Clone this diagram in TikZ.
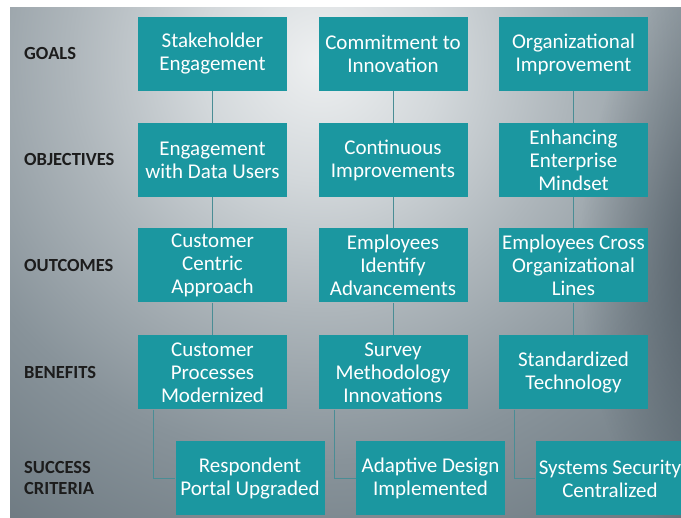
\documentclass[tikz,border=0pt]{standalone}
\usepackage{fontspec}
\setmainfont{Carlito}
\usetikzlibrary{fadings}

\definecolor{boxteal}{HTML}{1B97A0}
\definecolor{linkteal}{HTML}{4A8D95}
\definecolor{labelink}{HTML}{1C1C1C}
\definecolor{bg0}{HTML}{EEF0F1}
\definecolor{bg1}{HTML}{D3D8DB}
\definecolor{bg2}{HTML}{AEB6BB}
\definecolor{bg3}{HTML}{88939A}
\definecolor{bg4}{HTML}{68747C}
\definecolor{rightdark}{HTML}{34404A}

% soft light patch behind the chart
\pgfdeclareradialshading{bgglow}{\pgfpoint{0bp}{0bp}}{%
  color(0bp)=(bg0); color(5bp)=(bg1); color(10.4bp)=(bg2);
  color(16.7bp)=(bg3); color(25bp)=(bg4); color(50bp)=(bg4)}
\tikzfading[name=edgeblob, inner color=transparent!25, outer color=transparent!100]

\begin{document}
\begin{tikzpicture}[x=1pt,y=-1pt,
  box/.style={rectangle, fill=boxteal, text=white, minimum width=149pt,
    minimum height=74pt, inner sep=0pt, align=center,
    font=\fontsize{21}{23}\selectfont},
  rowlabel/.style={anchor=west, inner sep=0pt, align=left, text=labelink,
    font=\bfseries\fontsize{18.5}{21}\selectfont},
  link/.style={draw=linkteal, line width=1pt}]

\useasboundingbox (0,0) rectangle (681,518);
\fill[white] (0,0) rectangle (681,518);
\begin{scope}
  \clip (10,8) rectangle (681,518);
  \shade[shading=bgglow] (320,60) circle (600pt);
  \fill[rightdark, path fading=edgeblob] (740,260) ellipse (160pt and 300pt);
\end{scope}

% row labels
\node[rowlabel] (lgoal) at (24,54)    {GOALS};
\node[rowlabel] (lobj)  at (24,160)   {OBJECTIVES};
\node[rowlabel] (lout)  at (24,265.5) {OUTCOMES};
\node[rowlabel] (lben)  at (24,372.5) {BENEFITS};
\node[rowlabel] (lsuc)  at (24,478)   {SUCCESS\\CRITERIA};

% goals
\node[box] (g1) at (212.5,54) {Stakeholder\\Engagement};
\node[box] (g2) at (393,54)   {Commitment to\\Innovation};
\node[box] (g3) at (573.5,54) {Organizational\\Improvement};
% objectives
\node[box] (o1) at (212.5,160) {Engagement\\with Data Users};
\node[box] (o2) at (393,160)   {Continuous\\Improvements};
\node[box] (o3) at (573.5,160) {Enhancing\\Enterprise\\Mindset};
% outcomes
\node[box] (u1) at (212.5,265.5) {Customer\\Centric\\Approach};
\node[box] (u2) at (393,265.5)   {Employees\\Identify\\Advancements};
\node[box] (u3) at (573.5,265.5) {Employees Cross\\Organizational\\Lines};
% benefits
\node[box] (b1) at (212.5,372.5) {Customer\\Processes\\Modernized};
\node[box] (b2) at (393,372.5)   {Survey\\Methodology\\Innovations};
\node[box] (b3) at (573.5,372.5) {Standardized\\Technology};
% success criteria
\node[box] (s1) at (250,478.5)   {Respondent\\Portal Upgraded};
\node[box] (s2) at (430.5,478.5) {Adaptive Design\\Implemented};
\node[box] (s3) at (610,478.5)   {Systems Security\\Centralized};

% vertical links
\foreach \a/\b in {g1/o1,o1/u1,u1/b1,g2/o2,o2/u2,u2/b2,g3/o3,o3/u3,u3/b3}
  \draw[link] (\a) -- (\b);
% elbow links to success criteria
\foreach \a/\b in {b1/s1,b2/s2,b3/s3}
  \draw[link] ([xshift=16pt]\a.south west) |- (\b.west);
\end{tikzpicture}
\end{document}
